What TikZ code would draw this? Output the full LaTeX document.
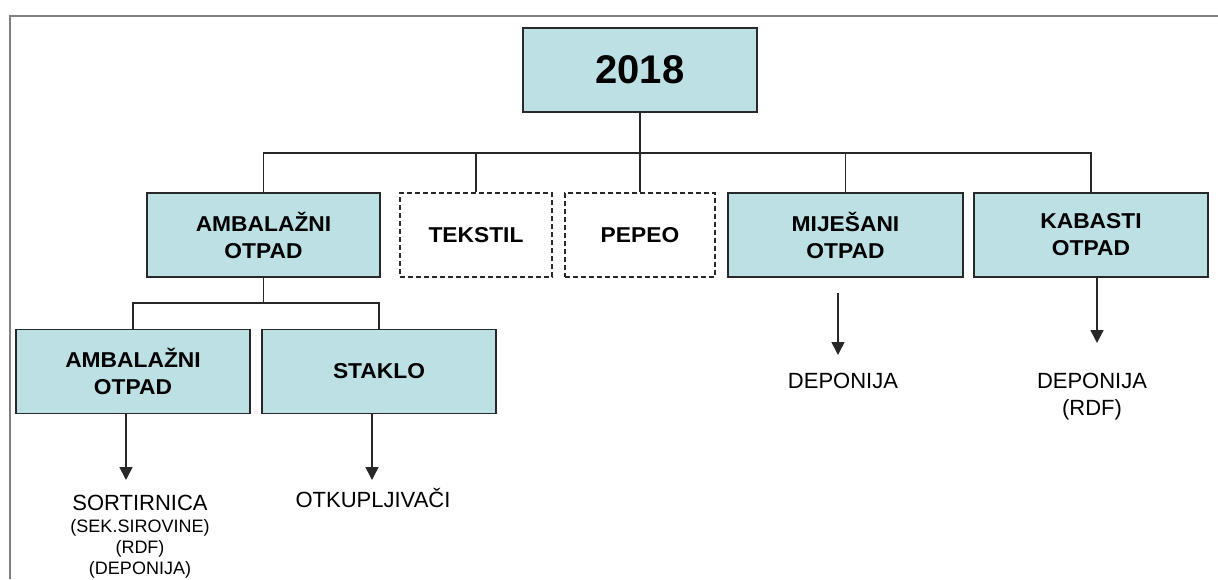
\documentclass[tikz,border=0pt]{standalone}
\usepackage{fontspec}
\setmainfont{Liberation Sans}
\newfontfamily\boxfont[FakeStretch=1.06]{Liberation Sans}
\usetikzlibrary{arrows.meta}
\definecolor{boxfill}{RGB}{188,224,227}
\definecolor{framegray}{RGB}{128,128,128}
\definecolor{linegray}{RGB}{40,40,40}
\begin{document}
\begin{tikzpicture}[x=1pt,y=-1pt,
  box/.style={draw=linegray, line width=1.5pt, fill=boxfill, minimum height=84pt,
    inner sep=0pt, align=center, font=\boxfont\fontsize{21.5}{27}\selectfont\bfseries},
  dbox/.style={box, fill=white, dash pattern=on 5pt off 3pt, line width=1.3pt},
  conn/.style={draw=linegray, line width=1.6pt},
  arr/.style={conn, -{Triangle[width=13pt,length=13pt]}},
  lbl/.style={align=center, inner sep=0pt, font=\fontsize{22}{27}\selectfont},
]
\useasboundingbox (0,0) rectangle (1218,579);
\draw[framegray, line width=2pt] (9.5,579) -- (9.5,16) -- (1218,16);

% top
\node[box, minimum width=234pt, font=\fontsize{40}{40}\selectfont\bfseries] (top) at (640,70) {2018};

% level 2
\node[box, minimum width=233pt] (amb) at (263.5,235) {AMBALAŽNI\\OTPAD};
\node[dbox, minimum width=152pt] (tek) at (476,235) {TEKSTIL};
\node[dbox, minimum width=150pt] (pep) at (640,235) {PEPEO};
\node[box, minimum width=235pt] (mij) at (845.5,235) {MIJEŠANI\\OTPAD};
\node[box, minimum width=234pt] (kab) at (1091,235) {KABASTI\\OTPAD};

% level 3
\node[box, minimum width=234pt] (amb2) at (133,371.5) {AMBALAŽNI\\OTPAD};
\node[box, minimum width=234pt] (stak) at (379,371.5) {STAKLO};

% bus lines
\coordinate (bus) at (640,153);
\coordinate (bus2) at (263,303);
\draw[conn] (top.south) -- (pep.north);
\draw[conn] (amb.north) -- (amb.north |- bus) -- (kab.north |- bus) -- (kab.north);
\draw[conn] (tek.north) -- (tek.north |- bus);
\draw[conn] (mij.north) -- (mij.north |- bus);
\draw[conn] (amb.south) -- (amb.south |- bus2);
\draw[conn] (amb2.north) -- (amb2.north |- bus2) -- (stak.north |- bus2) -- (stak.north);

% arrows
\coordinate (t1) at (126,480);
\coordinate (t2) at (372,480);
\coordinate (t3) at (838,355);
\coordinate (t4) at (1097,343);
\draw[arr] (amb2.south -| t1) -- (t1);
\draw[arr] (stak.south -| t2) -- (t2);
\draw[arr, shorten <=15pt] (mij.south -| t3) -- (t3);
\draw[arr] (kab.south -| t4) -- (t4);

% labels
\node[lbl, anchor=north] (sort) at (140,495) {SORTIRNICA\\[-5pt]\fontsize{18}{20}\selectfont(SEK.SIROVINE)\\[-6pt]\fontsize{18}{20}\selectfont(RDF)\\[-6pt]\fontsize{18}{20}\selectfont(DEPONIJA)};
\node[lbl, anchor=base] (otk) at (373,507) {OTKUPLJIVAČI};
\node[lbl, anchor=base] (dep1) at (843,388) {DEPONIJA};
\node[lbl, anchor=north] (dep2) at (1092,373) {DEPONIJA\\(RDF)};
\end{tikzpicture}
\end{document}
